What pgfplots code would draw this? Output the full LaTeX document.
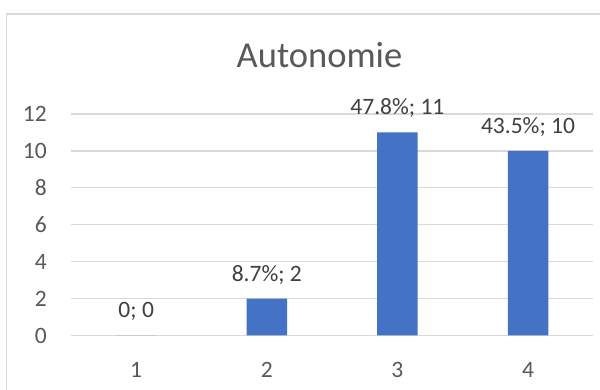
\documentclass[border=0pt]{standalone}
\usepackage{fontspec}
\setmainfont{Carlito}
\usepackage{pgfplots}
\usepackage{pgfplotstable}
\pgfplotsset{compat=1.18}

\definecolor{barblue}{HTML}{4472C4}
\definecolor{gridgray}{HTML}{D9D9D9}
\definecolor{ticktext}{HTML}{595959}
\definecolor{labeltext}{HTML}{404040}

% unexpandable semicolon for the bar labels
\chardef\semi=`\;

% category, count, label (share; count)
\pgfplotstableread[col sep=comma]{
x,y,lab
1,0,{0\semi\ 0}
2,2,{8.7\%\semi\ 2}
3,11,{47.8\%\semi\ 11}
4,10,{43.5\%\semi\ 10}
}\autonomie

\begin{document}
\begin{tikzpicture}[x=1pt,y=1pt]
  % page extent
  \path[use as bounding box] (0,0) rectangle (600,390);
  \fill[white] (0,0) rectangle (600,390);
  % chart frame
  \draw[gridgray, line width=1.3pt] (6.7,-20) -- (6.7,376) -- (620,376);
  % title
  \node[anchor=base, inner sep=0pt, text=ticktext,
        font=\fontsize{36.5}{40}\selectfont] at (319.5,322.7) {Autonomie};

  \begin{axis}[
    at={(70.9pt,54.5pt)}, anchor=south west,
    scale only axis,
    width=522.4pt, height=221.5pt,
    xmin=0.5, xmax=4.5,
    ymin=0, ymax=12,
    xtick={1,2,3,4},
    ytick={0,2,4,6,8,10,12},
    axis line style={draw=none},
    major tick length=0pt,
    tick style={draw=none},
    ymajorgrids,
    grid style={gridgray, line width=1.3pt},
    /pgf/number format/assume math mode=true,
    ticklabel style={font=\fontsize{23.5}{28}\selectfont, text=ticktext, inner sep=0pt},
    yticklabel style={anchor=east, xshift=-24pt},
    xticklabel style={anchor=center, yshift=-34pt},
    clip=false,
    ybar,
    bar width=40.5pt,
    point meta=explicit symbolic,
    nodes near coords={\pgfplotspointmeta},
    every node near coord/.append style={anchor=base, yshift=17.5pt, inner sep=0pt,
        text=labeltext, font=\fontsize{23.5}{28}\selectfont},
  ]
    \addplot[fill=barblue, draw=none] table[x=x, y=y, meta=lab] {\autonomie};
  \end{axis}
\end{tikzpicture}
\end{document}
